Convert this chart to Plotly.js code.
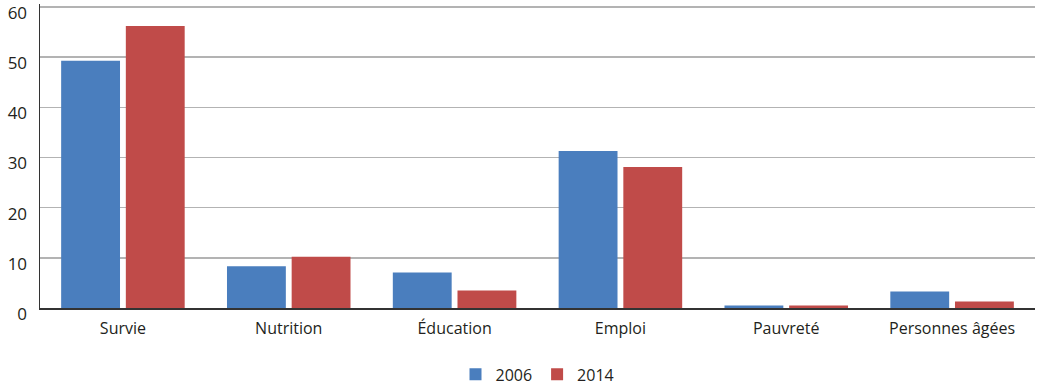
<!DOCTYPE html>
<html>
<head>
<meta charset="utf-8">
<script src="https://cdn.plot.ly/plotly-3.0.1.min.js"></script>
<style>
  html, body { margin: 0; padding: 0; background: #fff; }
  #chart { width: 1037px; height: 386px; }
</style>
</head>
<body>
<div id="chart"></div>
<script>
const categories = ["Survie", "Nutrition", "Éducation", "Emploi", "Pauvreté", "Personnes âgées"];
const values2006 = [49.3, 8.3, 7.1, 31.3, 0.5, 3.3];
const values2014 = [56.2, 10.2, 3.5, 28.1, 0.5, 1.3];
const yTicks = [0, 10, 20, 30, 40, 50, 60];

const fontFamily = "Open Sans, Lato, sans-serif";
const textColor = "#231f20";

const traces = [
  { type: "bar", name: "2006", x: categories, y: values2006, marker: { color: "#4a7ebe" } },
  { type: "bar", name: "2014", x: categories, y: values2014, marker: { color: "#c04b49" } }
];

const layout = {
  width: 1037, height: 386,
  margin: { l: 40, r: 2, t: 4, b: 78, autoexpand: false },
  paper_bgcolor: "#fff", plot_bgcolor: "#fff",
  font: { family: fontFamily, size: 16, color: textColor },
  barmode: "group",
  bargap: 0.22,
  bargroupgap: 0.09,
  showlegend: true,
  legend: {
    orientation: "h", x: 0.5, xanchor: "center",
    yref: "container", y: 0.03, yanchor: "middle",
    font: { family: fontFamily, size: 16, color: textColor },
    itemwidth: 30, traceorder: "normal"
  },
  xaxis: {
    automargin: false,
    showgrid: false, showline: true, linecolor: "#333", linewidth: 2,
    ticks: "", ticklabelstandoff: 5,
    tickfont: { family: fontFamily, size: 16, color: textColor },
    fixedrange: true
  },
  yaxis: {
    automargin: false,
    range: [0, 60.6], tickvals: yTicks, ticktext: yTicks.map(String),
    showgrid: true, gridcolor: "#b3b3b3", gridwidth: 1.5,
    showline: true, linecolor: "#333", linewidth: 1.5,
    zeroline: false, ticks: "", ticklabelstandoff: 8,
    ticklabeloverflow: "allow", ticklabelshift: 6,
    tickfont: { family: fontFamily, size: 17, color: textColor },
    fixedrange: true
  }
};

Plotly.newPlot("chart", traces, layout, { displayModeBar: false, staticPlot: true });
</script>
</body>
</html>
